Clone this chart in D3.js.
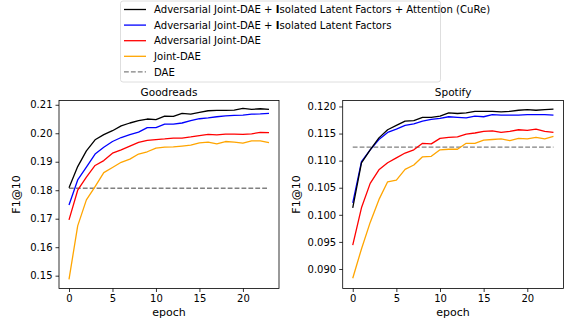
<!DOCTYPE html>
<html>
<head>
<meta charset="utf-8">
<script src="https://cdn.jsdelivr.net/npm/d3@7"></script>
<style>
  body { margin: 0; background: #fff; }
  svg { font-family: "DejaVu Sans", sans-serif; }
</style>
</head>
<body>
<svg id="chart" width="567" height="321"></svg>
<script>
const epochs = d3.range(24);

// Goodreads F1@10
const grCure = [0.1809, 0.1883, 0.1938, 0.1977, 0.1995, 0.2009, 0.2026, 0.2036, 0.2044, 0.2050, 0.2048, 0.2060,
                0.2059, 0.2070, 0.2067, 0.2073, 0.2079, 0.2080, 0.2080, 0.2081, 0.2087, 0.2084, 0.2086, 0.2084];
const grIso = [0.1748, 0.1836, 0.1881, 0.1927, 0.1951, 0.1971, 0.1985, 0.1995, 0.2004, 0.2020, 0.2020, 0.2032,
               0.2032, 0.2036, 0.2044, 0.2051, 0.2054, 0.2058, 0.2061, 0.2063, 0.2064, 0.2067, 0.2068, 0.2070];
const grAdv = [0.1696, 0.1800, 0.1846, 0.1887, 0.1904, 0.1930, 0.1942, 0.1955, 0.1968, 0.1975, 0.1978, 0.1980,
               0.1983, 0.1983, 0.1987, 0.1992, 0.1996, 0.1994, 0.1997, 0.1997, 0.1996, 0.1998, 0.2003, 0.2002];
const grJoint = [0.1487, 0.1675, 0.1766, 0.1813, 0.1862, 0.1880, 0.1898, 0.1909, 0.1927, 0.1935, 0.1948, 0.1951,
                 0.1952, 0.1955, 0.1958, 0.1966, 0.1969, 0.1963, 0.1971, 0.1969, 0.1965, 0.1973, 0.1973, 0.1967];
const grDae = 0.1807;

// Spotify F1@10
const spCure = [0.1013, 0.1096, 0.1120, 0.1142, 0.1157, 0.1165, 0.1173, 0.1174, 0.1180, 0.1180, 0.1182, 0.1188,
                0.1187, 0.1188, 0.1191, 0.1191, 0.1191, 0.1190, 0.1191, 0.1193, 0.1194, 0.1193, 0.1194, 0.1195];
const spIso = [0.1022, 0.1098, 0.1120, 0.1139, 0.1152, 0.1158, 0.1165, 0.1168, 0.1173, 0.1176, 0.1178, 0.1181,
               0.1180, 0.1179, 0.1182, 0.1181, 0.1185, 0.1184, 0.1184, 0.1184, 0.1185, 0.1185, 0.1185, 0.1184];
const spAdv = [0.0944, 0.1013, 0.1058, 0.1083, 0.1096, 0.1105, 0.1114, 0.1120, 0.1132, 0.1131, 0.1141, 0.1143,
               0.1144, 0.1149, 0.1151, 0.1154, 0.1155, 0.1152, 0.1154, 0.1157, 0.1156, 0.1158, 0.1154, 0.1152];
const spJoint = [0.0883, 0.0937, 0.0986, 0.1028, 0.1061, 0.1064, 0.1084, 0.1092, 0.1107, 0.1108, 0.1120, 0.1121,
                 0.1121, 0.1132, 0.1132, 0.1138, 0.1139, 0.1140, 0.1137, 0.1141, 0.1140, 0.1143, 0.1140, 0.1145];
const spDae = 0.1125;

const xTicks = [0, 5, 10, 15, 20];
const grTicks = [0.15, 0.16, 0.17, 0.18, 0.19, 0.20, 0.21];
const spTicks = [0.090, 0.095, 0.100, 0.105, 0.110, 0.115, 0.120];

const colors = { cure: '#000000', iso: '#0000ff', adv: '#ff0000', joint: '#ffa500', dae: '#808080' };

const svg = d3.select('#chart');

function drawPanel(opts) {
  const { left, right, top, bottom, title, series, dae, ticks, fmt, yDomain } = opts;
  const x = d3.scaleLinear().domain([-1.15, 24.15]).range([left, right]);
  const y = d3.scaleLinear().domain(yDomain).range([bottom, top]);
  const g = svg.append('g');

  const line = d3.line().x((d, i) => x(epochs[i])).y(d => y(d));

  g.append('line')
    .attr('x1', x(0)).attr('x2', x(23))
    .attr('y1', y(dae)).attr('y2', y(dae))
    .attr('stroke', colors.dae).attr('stroke-width', 1.3)
    .attr('stroke-dasharray', '4.8,2.1');

  // draw bottom-most first so black ends on top
  ['joint', 'adv', 'iso', 'cure'].forEach(k => {
    g.append('path')
      .attr('d', line(series[k]))
      .attr('fill', 'none')
      .attr('stroke', colors[k])
      .attr('stroke-width', 1.3)
      .attr('stroke-linejoin', 'round');
  });

  const xAxis = g.append('g')
    .attr('transform', `translate(0,${bottom})`)
    .call(d3.axisBottom(x).tickValues(xTicks).tickSize(3.5).tickPadding(3).tickFormat(d3.format('d')));
  const yAxis = g.append('g')
    .attr('transform', `translate(${left},0)`)
    .call(d3.axisLeft(y).tickValues(ticks).tickSize(3.5).tickPadding(3).tickFormat(d3.format(fmt)));
  [xAxis, yAxis].forEach(a => {
    a.select('.domain').remove();
    a.selectAll('text').attr('font-size', 10).attr('fill', '#000').attr('font-family', '"DejaVu Sans", sans-serif');
    a.selectAll('line').attr('stroke', '#000').attr('stroke-width', 0.8);
  });

  g.append('rect')
    .attr('x', left).attr('y', top)
    .attr('width', right - left).attr('height', bottom - top)
    .attr('fill', 'none').attr('stroke', '#000').attr('stroke-width', 0.8);

  g.append('text')
    .attr('x', (left + right) / 2).attr('y', top - 4.5)
    .attr('text-anchor', 'middle').attr('font-size', 10.5)
    .text(title);

  g.append('text')
    .attr('x', (left + right) / 2).attr('y', 315.5)
    .attr('text-anchor', 'middle').attr('font-size', 11)
    .text('epoch');

  g.append('text')
    .attr('transform', `translate(${opts.ylabX},${(top + bottom) / 2}) rotate(-90)`)
    .attr('text-anchor', 'middle').attr('font-size', 11)
    .text('F1@10');
}

drawPanel({
  left: 59, right: 279, top: 100.5, bottom: 288.5,
  title: 'Goodreads',
  series: { cure: grCure, iso: grIso, adv: grAdv, joint: grJoint },
  dae: grDae, ticks: grTicks, fmt: '.2f', yDomain: [0.1455, 0.2115], ylabX: 20
});

drawPanel({
  left: 342.7, right: 563.5, top: 100.5, bottom: 288.5,
  title: 'Spotify',
  series: { cure: spCure, iso: spIso, adv: spAdv, joint: spJoint },
  dae: spDae, ticks: spTicks, fmt: '.3f', yDomain: [0.0864, 0.1211], ylabX: 300
});

// legend
const legendItems = [
  { key: 'cure', parts: [['Adversarial Joint-DAE + ', false], ['I', true], ['solated Latent Factors + Attention (CuRe)', false]] },
  { key: 'iso', parts: [['Adversarial Joint-DAE + ', false], ['I', true], ['solated Latent Factors', false]] },
  { key: 'adv', parts: [['Adversarial Joint-DAE', false]] },
  { key: 'joint', parts: [['Joint-DAE', false]] },
  { key: 'dae', parts: [['DAE', false]] }
];

const lg = svg.append('g');
lg.append('rect')
  .attr('x', 120.5).attr('y', 1).attr('width', 320).attr('height', 81)
  .attr('rx', 2.5).attr('fill', '#fff').attr('fill-opacity', 0.8)
  .attr('stroke', '#d6d6d6').attr('stroke-width', 0.8);

legendItems.forEach((it, i) => {
  const cy = 9.5 + i * 15.6;
  lg.append('line')
    .attr('x1', 124).attr('x2', 146).attr('y1', cy).attr('y2', cy)
    .attr('stroke', colors[it.key]).attr('stroke-width', 1.3)
    .attr('stroke-dasharray', it.key === 'dae' ? '4.8,2.1' : null);
  const t = lg.append('text')
    .attr('x', 154).attr('y', cy + 3.6).attr('font-size', 10.1);
  it.parts.forEach(([s, bold]) => {
    t.append('tspan').attr('font-weight', bold ? 'bold' : null).text(s);
  });
});
</script>
</body>
</html>
